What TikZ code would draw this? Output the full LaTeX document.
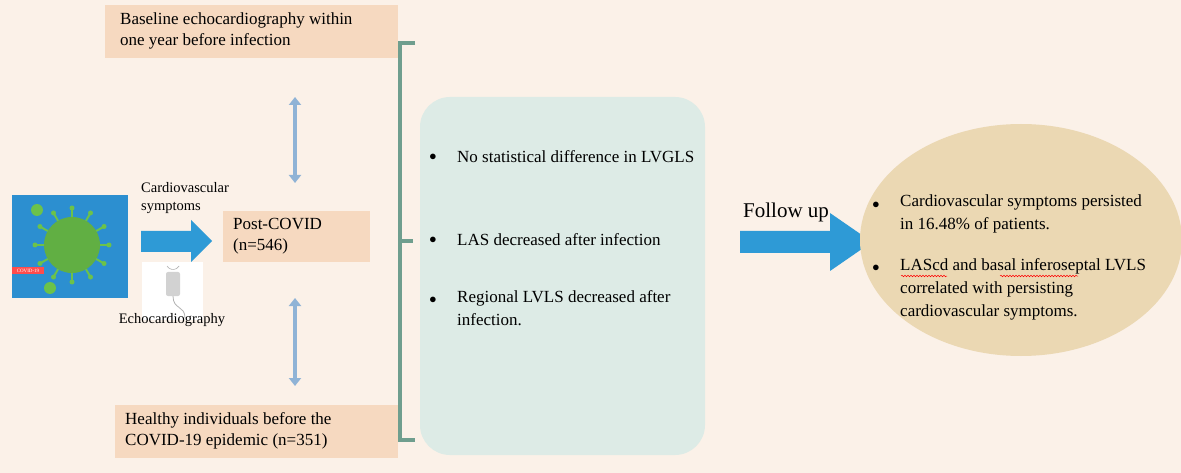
\documentclass[tikz,border=0pt]{standalone}
\usepackage{fontspec}
\setmainfont{Liberation Serif}
\usetikzlibrary{arrows.meta,positioning,shapes.geometric,decorations.pathmorphing}
\definecolor{bgcream}{HTML}{FBF1E8}
\definecolor{peach}{HTML}{F6D9C0}
\definecolor{tealbox}{HTML}{DDEBE6}
\definecolor{tanoval}{HTML}{EBD8B3}
\definecolor{arrblue}{HTML}{2E9AD6}
\definecolor{paleblue}{HTML}{8FB3D6}
\definecolor{brgreen}{HTML}{6F9E8E}
\definecolor{virusgreen}{HTML}{6CC24A}
\definecolor{virusbg}{HTML}{2C8FD0}
\tikzset{
  infobox/.style={fill=peach, inner sep=0pt, font=\fontsize{17}{21}\selectfont, align=left},
  bul/.style={font=\fontsize{15}{18}\selectfont},
  bultext/.style={font=\fontsize{17}{23}\selectfont, align=left, anchor=west, inner sep=0pt},
  twoway/.style={paleblue, line width=4pt, {Triangle[length=8pt,width=12pt]}-{Triangle[length=8pt,width=12pt]}},
  redwave/.style={red, line width=0.5pt, decorate, decoration={snake, amplitude=0.8pt, segment length=3pt}}
}
\begin{document}
\begin{tikzpicture}[x=1pt, y=-1pt]

  % ---- Background ----
  \fill[bgcream] (0,0) rectangle (1181,473);
  \useasboundingbox (0,0) rectangle (1181,473);

  % ---- Comparison boxes ----
  \fill[peach] (105,5) rectangle (398,58);
  \node[infobox, anchor=west] (baseline) at (120,31)
    {Baseline echocardiography within\\one year before infection};
  \fill[peach] (223,211) rectangle (370,262);
  \node[infobox, anchor=west] (postcovid) at (233,236) {Post-COVID\\(n=546)};
  \fill[peach] (115,405) rectangle (398,458);
  \node[infobox, anchor=west] (healthy) at (125,431)
    {Healthy individuals before the\\COVID-19 epidemic (n=351)};

  % ---- Vertical double arrows ----
  \coordinate (upA) at (295,97);
  \coordinate (upB) at (295,183);
  \coordinate (dnA) at (295,298);
  \coordinate (dnB) at (295,386);
  \draw[twoway] (upA) -- (upB);
  \draw[twoway] (dnA) -- (dnB);

  % ---- Bracket ----
  \draw[brgreen, line width=4pt] (415,43) -- (400,43) -- (400,440) -- (415,440);
  \draw[brgreen, line width=4pt] (400,241) -- (413,241);

  % ---- Virus picture ----
  \fill[virusbg] (12,195) rectangle (128,298);
  \fill[virusgreen!90!black] (72,245) circle (28);
  \foreach \a in {0,30,...,330}{
    \draw[virusgreen, line width=2pt] ({72+28*cos(\a)},{245+28*sin(\a)}) -- ({72+36*cos(\a)},{245+36*sin(\a)});
    \fill[virusgreen] ({72+37*cos(\a)},{245+37*sin(\a)}) circle (2.5);
  }
  \fill[virusgreen] (37,210) circle (6);
  \fill[virusgreen] (50,288) circle (6);
  \fill[red!70] (12,267) rectangle (44,274);
  \node[font=\fontsize{5}{5}\selectfont, text=white, inner sep=0pt] (covidtag) at (28,270.5) {COVID-19};

  % ---- Symptoms arrow ----
  \node[font=\fontsize{14.5}{18}\selectfont, align=left, anchor=north west, inner sep=0pt] (symptoms) at (141,182)
    {Cardiovascular\\symptoms};
  \fill[arrblue] (141,231) -- (191,231) -- (191,220) -- (212,241) -- (191,262) -- (191,252) -- (141,252) -- cycle;

  % ---- Probe picture ----
  \fill[white] (142,262) rectangle (203,320);
  \fill[gray!35, rounded corners=2pt] (166,272) rectangle (180,296);
  \draw[gray!60, line width=0.8pt] (173,296) .. controls (173,310) and (185,305) .. (185,318);
  \draw[gray!60, line width=0.6pt] (167,266) arc (150:30:7);
  \node[font=\fontsize{14.5}{18}\selectfont, inner sep=0pt] (echo) at (172,320) {Echocardiography};

  % ---- Findings box ----
  \fill[tealbox, rounded corners=30pt] (420,97) rectangle (705,455);
  \node[bul] (b1) at (433,157) {$\bullet$};
  \node[bultext] (f1) at (457,157) {No statistical difference in LVGLS};
  \node[bul] (b2) at (433,240) {$\bullet$};
  \node[bultext] (f2) at (457,240) {LAS decreased after infection};
  \node[bul] (b3) at (433,300) {$\bullet$};
  \node[bultext, anchor=north west] (f3) at (457,290) {Regional LVLS decreased after\\infection.};

  % ---- Follow up arrow ----
  \node[font=\fontsize{21}{24}\selectfont, anchor=west, inner sep=0pt] (follow) at (743,212) {Follow up};
  \fill[arrblue] (740,231) -- (830,231) -- (830,213) -- (872,242) -- (830,271) -- (830,253) -- (740,253) -- cycle;

  % ---- Outcome oval ----
  \node[ellipse, fill=tanoval, minimum width=322pt, minimum height=232pt] (outcome) at (1021,240) {};
  \node[bul] (b4) at (876,205) {$\bullet$};
  \node[bultext, anchor=north west] (o1) at (900,195)
    {Cardiovascular symptoms persisted\\in 16.48\% of patients.};
  \node[bul] (b5) at (876,268) {$\bullet$};
  \node[bultext, anchor=north west] (o2) at (900,258)
    {LAScd and basal inferoseptal LVLS\\correlated with persisting\\cardiovascular symptoms.};
  \draw[redwave] (901,276) -- (947,276);
  \draw[redwave] (1000,276) -- (1078,276);

\end{tikzpicture}
\end{document}
